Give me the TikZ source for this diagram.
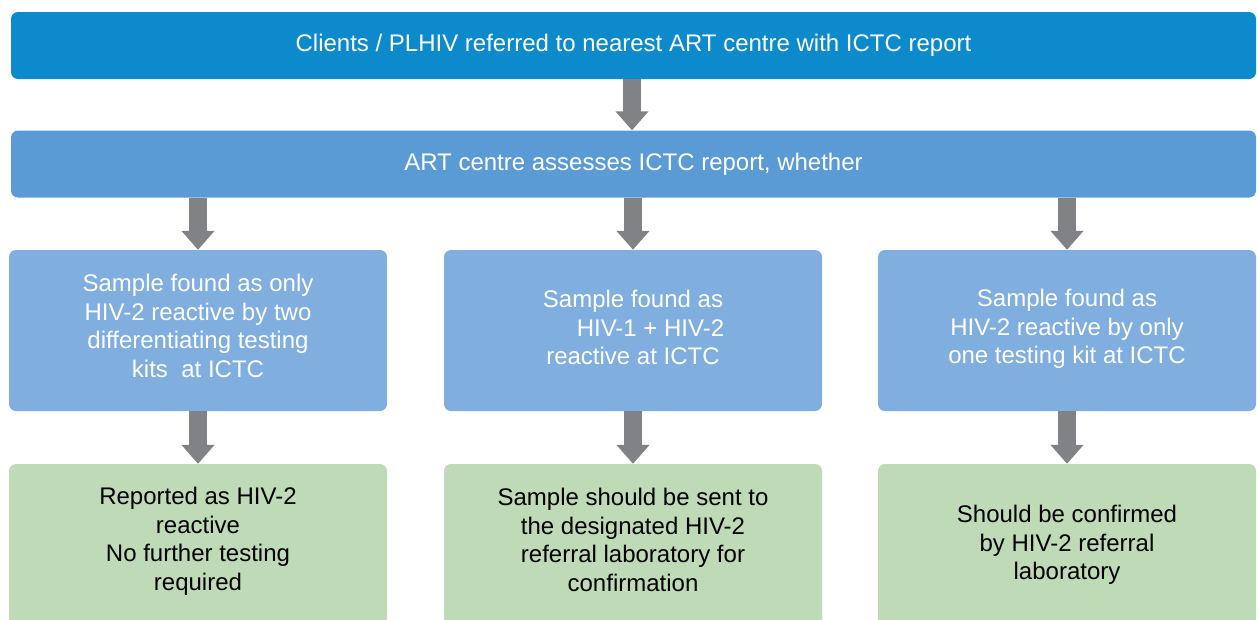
\documentclass[tikz,border=0pt]{standalone}
\usepackage{fontspec}
\setmainfont{Liberation Sans}
\usetikzlibrary{arrows.meta}
\definecolor{topblue}{HTML}{0C8ACB}
\definecolor{midblue}{HTML}{5A9BD6}
\definecolor{lightblue}{HTML}{80AEDE}
\definecolor{lightgreen}{HTML}{BFDAB6}
\definecolor{arrowgray}{HTML}{808285}
\tikzset{
  box/.style={rectangle, rounded corners=7pt, inner sep=0pt, align=center,
    font=\fontsize{24}{28.5}\selectfont},
  bluetop/.style={box, fill=topblue, text=white, minimum width=1245pt, minimum height=67pt},
  bluemid/.style={box, fill=midblue, text=white, minimum width=1245pt, minimum height=67pt},
  bluebox/.style={box, fill=lightblue, minimum width=378pt, minimum height=161pt},
  greenbox/.style={box, fill=lightgreen, minimum width=378pt, minimum height=176pt},
  btext/.style={inner sep=0pt, align=center, text=white, font=\fontsize{24}{28.5}\selectfont},
  gtext/.style={inner sep=0pt, align=center, text=black, font=\fontsize{24}{28.5}\selectfont},
  arr/.style={draw=arrowgray, line width=18pt, -{Triangle[length=19pt,width=32pt]}, arrowgray}
}
\begin{document}
\begin{tikzpicture}[x=1pt,y=-1pt]
\useasboundingbox (0,0) rectangle (1257,619);
\node[bluetop] (top) at (633.5,45.5) {Clients / PLHIV referred to nearest ART centre with ICTC report};
\node[bluemid] (assess) at (633.5,164) {ART centre assesses ICTC report, whether};
\node[bluebox] (r1) at (198,330.5) {};
\node[bluebox] (r2) at (633,330.5) {};
\node[bluebox] (r3) at (1067,330.5) {};
\node[btext] (r1t) at (198,326) {Sample found as only\\HIV-2 reactive by two\\differentiating testing\\kits~ at ICTC};
\node[btext] (r2t) at (633,327.5) {Sample found as\\\hspace*{35pt}HIV-1 + HIV-2\\reactive at ICTC};
\node[btext] (r3t) at (1067,328.8) {Sample found as\\HIV-2 reactive by only\\one testing kit at ICTC};
\node[greenbox] (g1) at (198,552) {};
\node[greenbox] (g2) at (633,552) {};
\node[greenbox] (g3) at (1067,552) {};
\node[gtext] (g1t) at (198,541.3) {Reported as HIV-2\\reactive\\No further testing\\required};
\node[gtext] (g2t) at (633,540) {Sample should be sent to\\the designated HIV-2\\referral laboratory for\\confirmation};
\node[gtext] (g3t) at (1067,545) {Should be confirmed\\by HIV-2 referral\\laboratory};
\draw[arr] (top.south -| 632,0) -- (assess.north -| 632,0);
\foreach \r/\g in {r1/g1, r2/g2, r3/g3}{
  \draw[arr] (assess.south -| \r.north) -- (\r.north);
  \draw[arr] (\r.south) -- (\g.north);
}
\end{tikzpicture}
\end{document}
